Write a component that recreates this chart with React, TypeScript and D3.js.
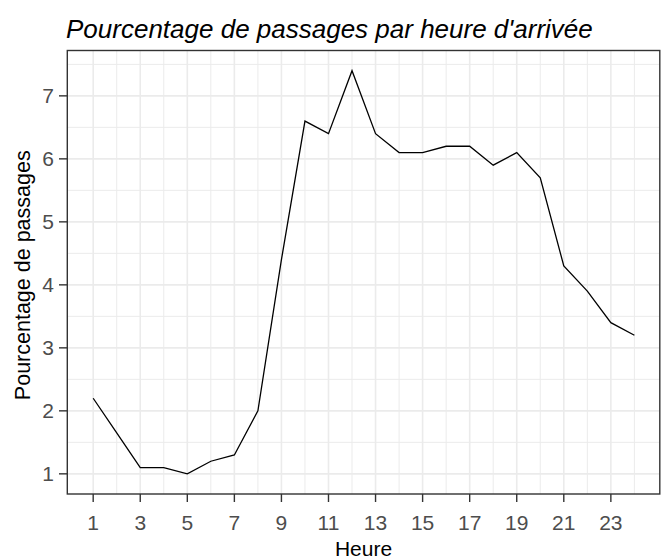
import React from "react";
import * as d3 from "d3";

const hours = [1, 2, 3, 4, 5, 6, 7, 8, 9, 10, 11, 12, 13, 14, 15, 16, 17, 18, 19, 20, 21, 22, 23, 24];
const percents = [2.2, 1.65, 1.1, 1.1, 1.0, 1.2, 1.3, 2.0, 4.4, 6.6, 6.4, 7.4, 6.4, 6.1, 6.1, 6.2, 6.2, 5.9, 6.1, 5.7, 4.3, 3.9, 3.4, 3.2];
const xTicks = [1, 3, 5, 7, 9, 11, 13, 15, 17, 19, 21, 23];
const xMinor = [2, 4, 6, 8, 10, 12, 14, 16, 18, 20, 22, 24];
const yTicks = [1, 2, 3, 4, 5, 6, 7];
const yMinor = [1.5, 2.5, 3.5, 4.5, 5.5, 6.5, 7.5];
const title = "Pourcentage de passages par heure d'arrivée";
const xTitle = "Heure";
const yTitle = "Pourcentage de passages";

const W = 661;
const H = 559;
const left = 67.3;
const right = 659.8;
const top = 50.5;
const bottom = 494;
const FONT = "'Liberation Sans', Arial, sans-serif";

export default function App() {
  const x = d3.scaleLinear().domain([-0.1, 25.08]).range([left, right]);
  const y = d3.scaleLinear().domain([0.68, 7.72]).range([bottom, top]);
  const line = d3
    .line<number>()
    .x((_, i) => x(hours[i]))
    .y((d) => y(d));
  const grid = "#ebebeb";
  return (
    <svg
      width={W}
      height={H}
      style={{ position: "absolute", left: 0, top: 0, background: "#fff" }}
    >
      <rect x={0} y={0} width={W} height={H} fill="#fff" />
      {yMinor.map((v) => (
        <line key={"ym" + v} x1={left} x2={right} y1={y(v)} y2={y(v)} stroke={grid} strokeWidth={1} />
      ))}
      {xMinor.map((v) => (
        <line key={"xm" + v} x1={x(v)} x2={x(v)} y1={top} y2={bottom} stroke={grid} strokeWidth={1} />
      ))}
      {yTicks.map((v) => (
        <line key={"yM" + v} x1={left} x2={right} y1={y(v)} y2={y(v)} stroke={grid} strokeWidth={1.6} />
      ))}
      {xTicks.map((v) => (
        <line key={"xM" + v} x1={x(v)} x2={x(v)} y1={top} y2={bottom} stroke={grid} strokeWidth={1.6} />
      ))}
      <path d={line(percents) || ""} fill="none" stroke="#000" strokeWidth={1.3} />
      <rect
        x={left}
        y={top}
        width={right - left}
        height={bottom - top}
        fill="none"
        stroke="#333"
        strokeWidth={1.4}
      />
      {yTicks.map((v) => (
        <g key={"yt" + v}>
          <line x1={59} x2={left} y1={y(v)} y2={y(v)} stroke="#333" strokeWidth={1.4} />
          <text
            x={54}
            y={y(v) + 7.5}
            textAnchor="end"
            fontFamily={FONT}
            fontSize={21}
            fill="#4d4d4d"
          >
            {v}
          </text>
        </g>
      ))}
      {xTicks.map((v) => (
        <g key={"xt" + v}>
          <line x1={x(v)} x2={x(v)} y1={bottom} y2={502} stroke="#333" strokeWidth={1.4} />
          <text
            x={x(v)}
            y={529.5}
            textAnchor="middle"
            fontFamily={FONT}
            fontSize={21}
            fill="#4d4d4d"
          >
            {v}
          </text>
        </g>
      ))}
      <text
        x={(left + right) / 2}
        y={556}
        textAnchor="middle"
        fontFamily={FONT}
        fontSize={21}
        fill="#000"
      >
        {xTitle}
      </text>
      <text
        transform={`translate(30,${(top + bottom) / 2 + 3}) rotate(-90)`}
        textAnchor="middle"
        fontFamily={FONT}
        fontSize={21.5}
        fill="#000"
      >
        {yTitle}
      </text>
      <text
        x={66}
        y={38}
        fontFamily={FONT}
        fontStyle="italic"
        fontSize={26}
        fill="#000"
      >
        {title}
      </text>
    </svg>
  );
}
